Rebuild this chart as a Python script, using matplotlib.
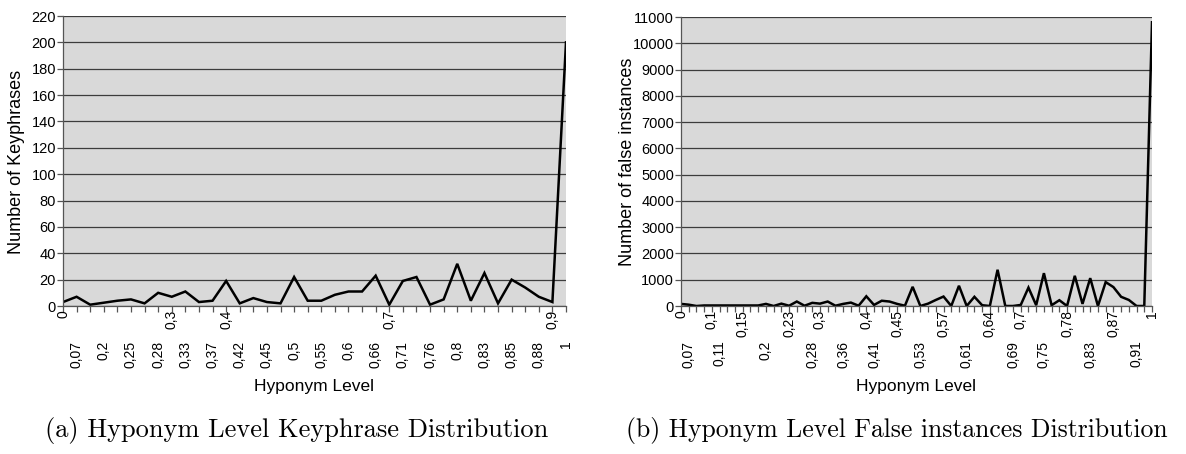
import matplotlib
matplotlib.use("Agg")
import matplotlib.pyplot as plt

# left chart: keyphrases per hyponym level (38 categories)
kp_values = [3, 7, 1, 2.5, 4, 5, 2, 10, 7, 11,
             3, 4, 19, 2, 6, 3, 2, 22, 4, 4,
             8.5, 11, 11, 23, 1, 19, 22, 1, 5, 32,
             4, 25, 2, 20, 14, 7, 3, 200]
kp_row1 = [(0, "0"), (8, "0,3"), (12, "0,4"), (24, "0,7"), (36, "0,9")]
kp_row2 = [(1, "0,07"), (3, "0,2"), (5, "0,25"), (7, "0,28"), (9, "0,33"),
           (11, "0,37"), (13, "0,42"), (15, "0,45"), (17, "0,5"), (19, "0,55"),
           (21, "0,6"), (23, "0,66"), (25, "0,71"), (27, "0,76"), (29, "0,8"),
           (31, "0,83"), (33, "0,85"), (35, "0,88"), (37, "1")]

# right chart: false instances per hyponym level (62 categories)
fi_values = [80, 50, 0, 20, 20, 20, 20, 20, 20, 20,
             20, 80, 0, 90, 10, 170, 10, 120, 90, 170,
             10, 80, 130, 10, 370, 40, 200, 170, 80, 10,
             730, 0, 90, 230, 360, 0, 770, 0, 350, 30,
             0, 1380, 0, 0, 40, 700, 30, 1250, 30, 220,
             0, 1150, 80, 1060, 0, 910, 720, 350, 230, 0,
             0, 10800]
fi_row1 = [(0, "0"), (4, "0,1"), (8, "0,15"), (14, "0,23"), (18, "0,3"),
           (24, "0,4"), (28, "0,45"), (34, "0,57"), (40, "0,64"), (44, "0,7"),
           (50, "0,78"), (56, "0,87"), (61, "1")]
fi_row2 = [(1, "0,07"), (5, "0,11"), (11, "0,2"), (17, "0,28"), (21, "0,36"),
           (25, "0,41"), (31, "0,53"), (37, "0,61"), (43, "0,69"), (47, "0,75"),
           (53, "0,83"), (59, "0,91")]

SANS = "Liberation Sans"
BG = "#d9d9d9"


def draw_panel(ax, values, row1, row2, ymax, ystep):
    n = len(values)
    ax.set_facecolor(BG)
    ax.plot(range(n), values, color="black", lw=1.8, solid_joinstyle="miter")
    ax.set_xlim(0, n - 1)
    ax.set_ylim(0, ymax)
    ax.set_yticks(range(0, ymax + 1, ystep))
    ax.yaxis.grid(True, color="#3c3c3c", lw=0.9)
    ax.set_axisbelow(True)
    for s in ("top", "right"):
        ax.spines[s].set_visible(False)
    for s in ("left", "bottom"):
        ax.spines[s].set_color("#555555")
        ax.spines[s].set_linewidth(0.9)
    ax.set_xticks(range(n))
    ax.set_xticklabels([])
    ax.tick_params(axis="x", direction="out", length=4, width=0.9, color="#555555")
    ax.tick_params(axis="y", direction="out", length=4, width=0.9, color="#555555",
                   labelsize=10.5, pad=1)
    for lab in ax.get_yticklabels():
        lab.set_fontfamily(SANS)
    for rows, off in ((row1, 3), (row2, 25)):
        for i, t in rows:
            ax.annotate(t, xy=(i, 0), xycoords=("data", "axes fraction"),
                        xytext=(0, -off), textcoords="offset points",
                        rotation=90, ha="center", va="top",
                        fontsize=10, family=SANS)


fig = plt.figure(figsize=(11.86, 4.54), dpi=100)
ax1 = fig.add_axes([63 / 1186, 148 / 454, 503 / 1186, 290 / 454])
ax2 = fig.add_axes([681 / 1186, 148 / 454, 471 / 1186, 289 / 454])

draw_panel(ax1, kp_values, kp_row1, kp_row2, 220, 20)
draw_panel(ax2, fi_values, fi_row1, fi_row2, 11000, 1000)

fig.text(17 / 1186, 1 - 162 / 454, "Number of Keyphrases", rotation=90,
         ha="center", va="center", fontsize=13, family=SANS)
fig.text(628 / 1186, 1 - 162 / 454, "Number of false instances", rotation=90,
         ha="center", va="center", fontsize=13, family=SANS)
fig.text(314 / 1186, 1 - 386 / 454, "Hyponym Level", ha="center", va="center",
         fontsize=12.5, family=SANS)
fig.text(916 / 1186, 1 - 386 / 454, "Hyponym Level", ha="center", va="center",
         fontsize=12.5, family=SANS)

fig.text(297 / 1186, 1 - 430 / 454, "(a) Hyponym Level Keyphrase Distribution",
         ha="center", va="center", fontsize=19, family="cmr10")
fig.text(897 / 1186, 1 - 430 / 454, "(b) Hyponym Level False instances Distribution",
         ha="center", va="center", fontsize=18.5, family="cmr10")

fig.savefig("out.png", dpi=100)
